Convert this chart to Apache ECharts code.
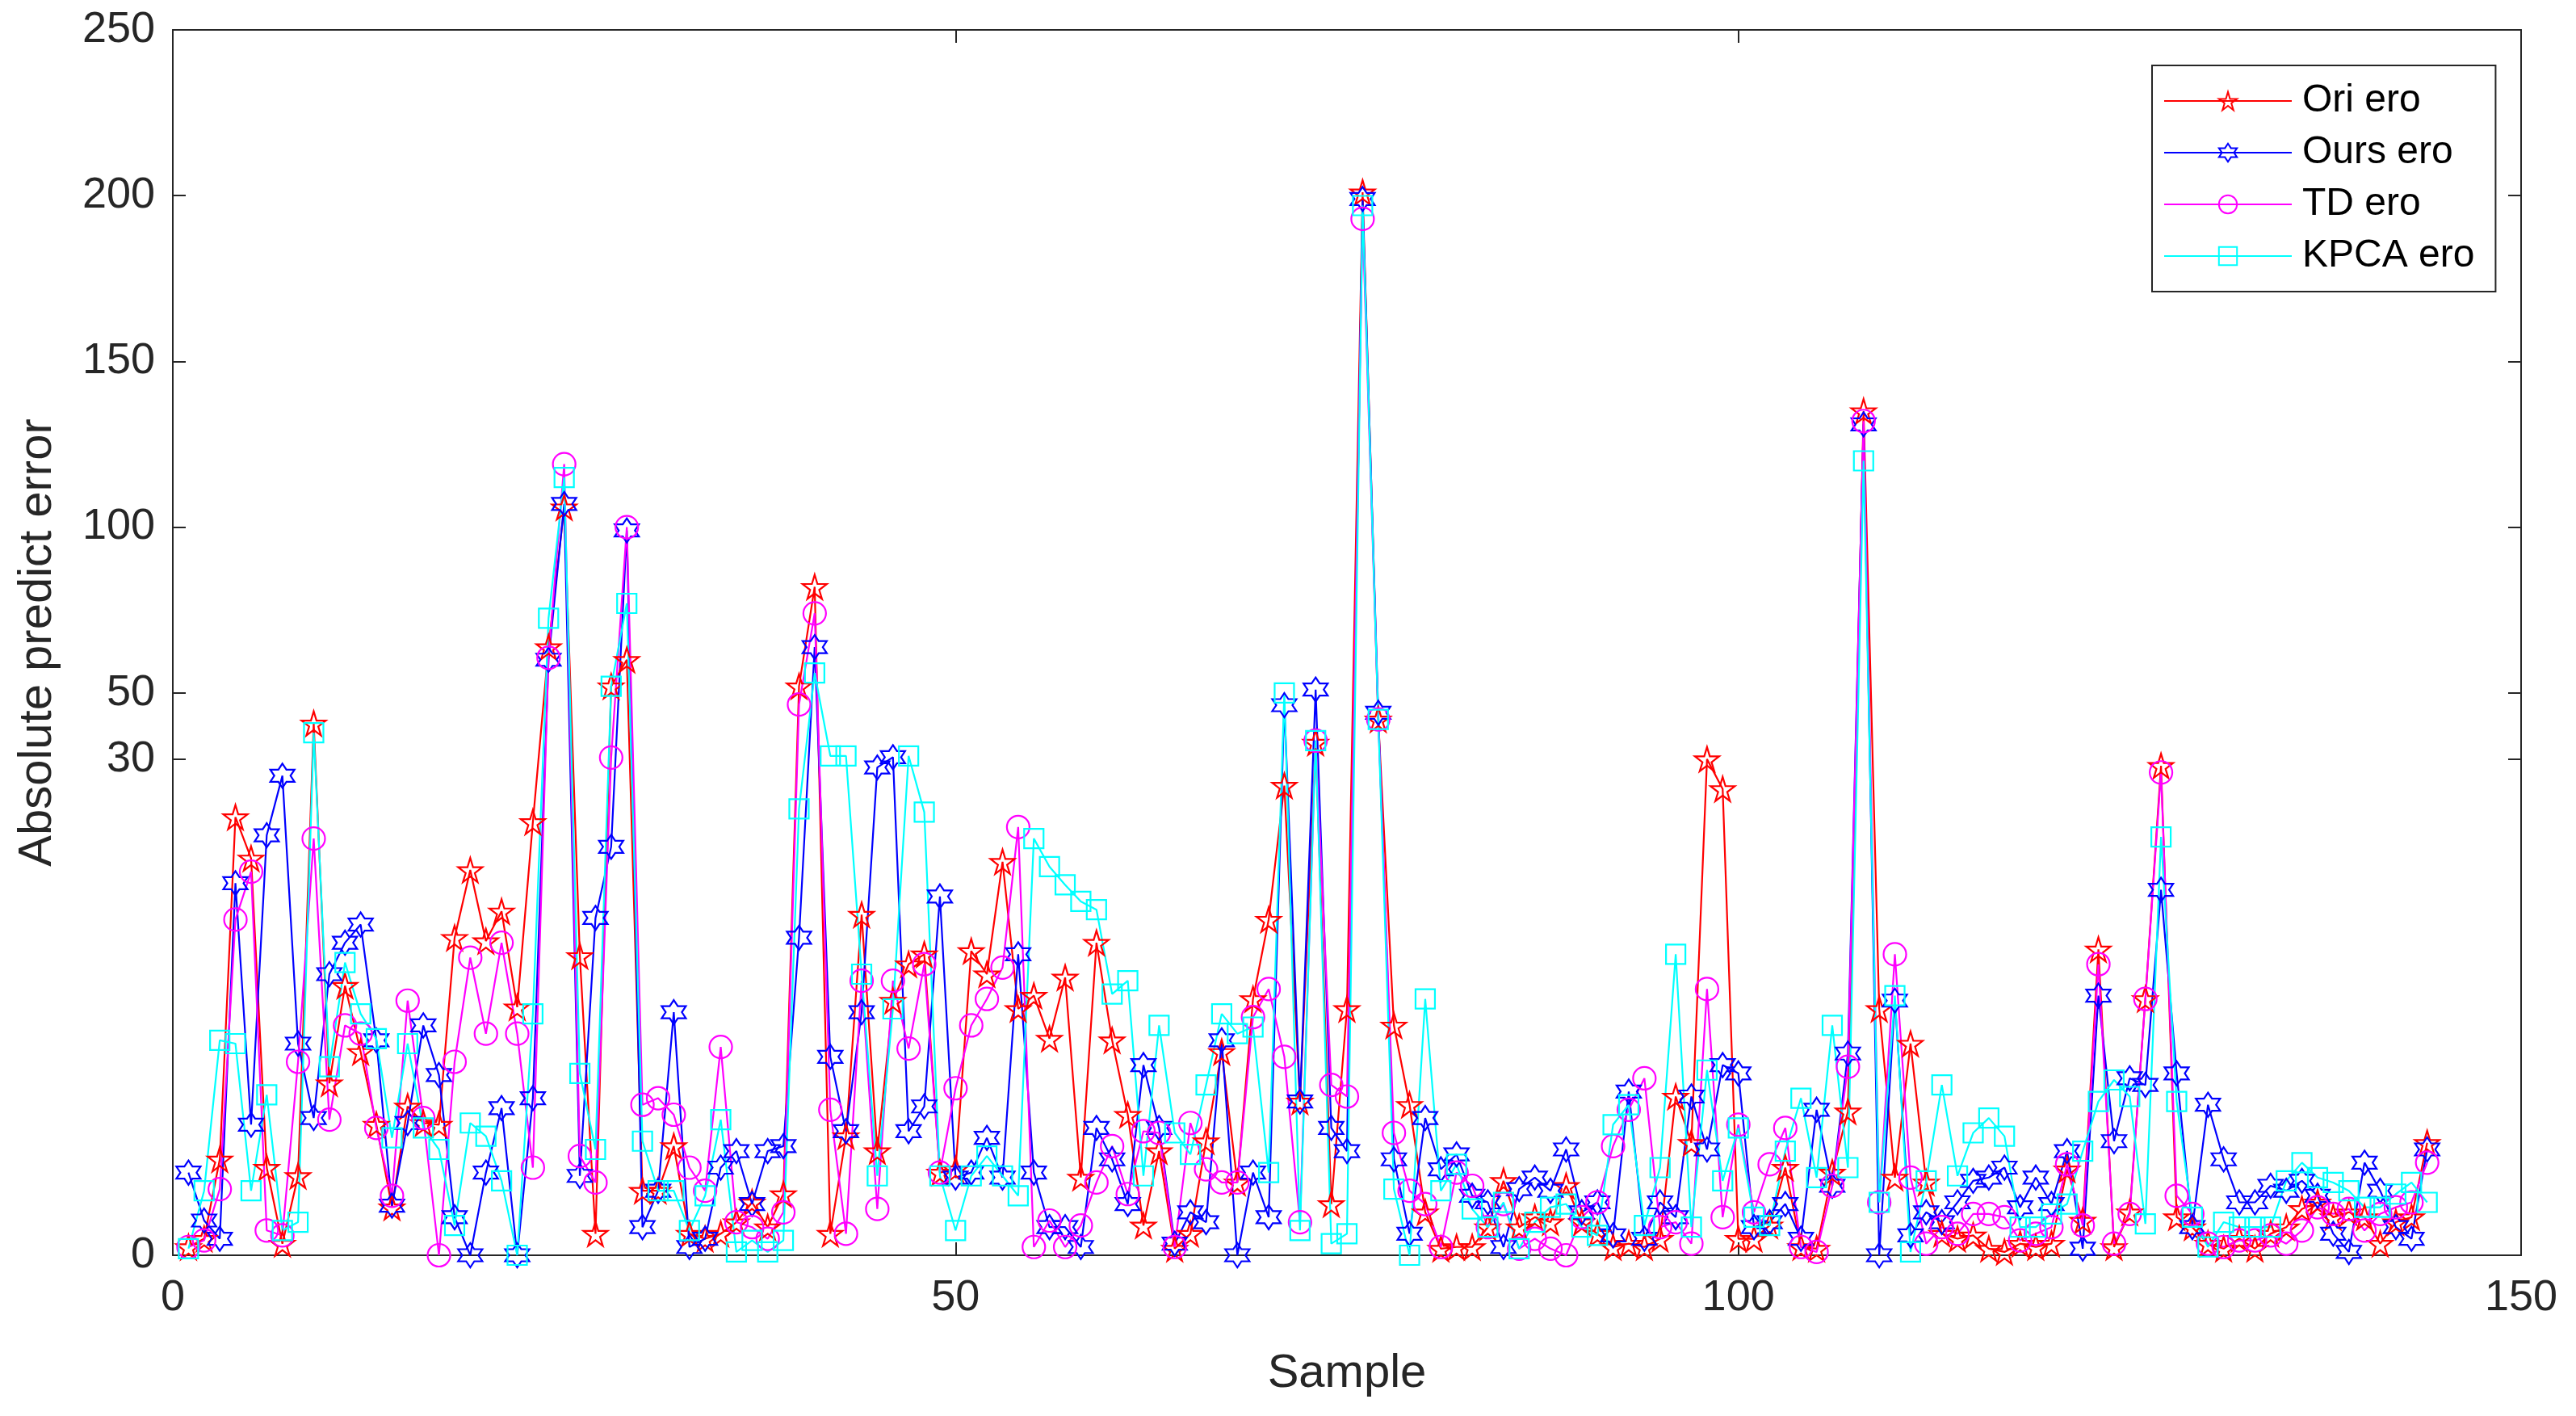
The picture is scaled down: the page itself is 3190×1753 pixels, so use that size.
<!DOCTYPE html>
<html><head><meta charset="utf-8">
<script src="https://cdn.jsdelivr.net/npm/echarts@6/dist/echarts.min.js"></script>
<style>html,body{margin:0;padding:0;background:#fff}#c{width:3190px;height:1753px}</style>
</head><body><div id="c"></div>
<script>
const samples = Array.from({length:144},(_,i)=>i+1);
const oriEro = [0.5,1,5.8,26.5,24,5.3,0.7,4.8,40.8,10.4,16.3,12.3,7.9,2.9,9,8,7.9,19.2,23.3,19,20.8,15,26.2,63.8,106,
18.1,1.3,52,60,3.9,3.9,6.6,1.3,1,1.3,2,3.2,1.7,3.7,52,82,1.3,7.2,20.6,6.3,15.4,17.6,18.2,5,5.2,
18.4,17,23.8,14.9,15.7,13.1,16.8,4.7,18.9,13,8.5,1.8,6.3,0.4,1.3,6.9,12.3,4.4,15.5,20.3,28.4,9.3,35,3.1,14.9,
201,42,13.9,9.1,2.6,0.4,0.5,0.5,1.7,4.5,1.7,2.3,2,4.2,2,1.3,0.5,0.7,0.5,1,9.6,6.8,30,28.2,1,
1,1.8,5.3,0.5,0.4,5,8.7,135,14.9,4.7,12.8,4.4,1.3,1,1.2,0.4,0.2,0.7,0.5,0.7,5.2,2.1,18.5,0.5,2.6,
15.5,29.6,2.3,1.7,0.7,0.4,1,0.4,1.3,1.7,2.8,3.2,2.3,2.6,2.3,0.7,2,2.3,6.8];
const oursEro = [5,2.1,1,22.5,7.9,25.4,29,12.8,8.3,17,18.9,20,13,3,8,13.9,10.9,2.3,0,5,8.9,0,9.5,60,107,
4.8,20.4,24.7,99,1.7,3.9,14.7,0.5,1,5.3,6.3,3.1,6.3,6.6,19.2,63.8,12,7.5,14.7,29.5,30.6,7.5,9,21.7,4.7,
5,7.1,4.7,18.2,5,1.7,1.7,0.5,7.7,5.8,3.1,11.5,7.7,0.7,2.6,2,13,0,5,2.3,46.3,9.3,51,7.7,6.3,
199,44,5.8,1.3,8.3,5.2,6.1,3.6,3.2,0.5,4,4.7,3.9,6.4,2.6,3.2,1.2,9.9,1,3.2,2.3,9.6,6.4,11.5,11,
1.7,2,3.1,1,8.8,4.2,12.2,131,0,15.4,1.2,2.6,2,3.2,4.5,4.7,5.3,2.9,4.7,3.1,6.3,0.4,15.7,6.9,10.7,
10.3,22.1,11,1.7,9.1,5.8,3.2,3.2,4.2,3.9,4.5,3.6,1.3,0.2,5.6,3.9,1.7,1,6.4];
const tdEro = [0.5,0.9,4,20.3,23.2,1.5,1.2,11.7,25.2,8.2,13.9,13.4,7.7,3.6,15.4,8.3,0,11.7,18,13.4,18.9,13.4,5.3,60.6,119,
6,4.4,30.5,100,9.1,9.5,8.5,5.3,3.9,12.6,2,1.7,1,2.6,46.5,74,8.8,1.3,16.6,2.8,16.6,12.5,17.6,5,10.1,
13.9,15.5,17.4,25.9,0.5,2.1,0.5,1.8,4.4,6.6,3.7,7.5,7.4,0.5,8,5.2,4.4,4.4,14.4,16.1,12,2,35.6,10.3,9.6,
193,42,7.4,3.9,3.1,0.5,5,4.2,1.7,3.1,0.4,1,0.4,0,2.3,3.2,6.6,8.8,10.7,1.7,2,0.7,16.1,2.3,7.9,
2.6,5.5,7.7,0.5,0.2,4.2,11.4,132,3.2,18.2,4.7,0.7,1.7,1.3,2.5,2.5,2.3,0.9,1.3,1.7,5.5,1.8,17.6,0.7,2.5,
15.5,29.2,3.6,2.5,0.7,0.5,0.9,0.9,1.2,0.7,1.5,2.9,2.5,2.8,1.5,2.5,2.9,3.2,5.6];
const kpcaEro = [0.4,3.9,13,12.8,3.9,9.7,1.5,2,38,11.4,17.7,14.6,13.1,7.1,12.8,7.7,6.4,1.8,8,7.2,4.5,0,14.6,72.5,115,
11,6.4,52,77,6.9,3.9,3.9,1.5,3.6,8.2,0.2,0.9,0.2,0.9,27,56,31,31,17,4.8,14.9,31,26.8,4.8,1.5,
4.8,6,4.8,3.6,25.2,23.5,22.4,21.4,20.9,15.8,16.6,4.8,13.9,7.4,6.1,10.3,14.6,13.4,13.8,5,50,1.5,35.6,0.7,1.3,
197,42,4,0,15.5,3.9,5.5,2.8,1.7,3.2,0.4,2,2.9,3.1,1.7,1.2,7.9,9.1,1.8,5.3,18.2,1.7,11.2,4.5,7.7,
2.3,1.8,6.3,9.5,4.7,13.9,5.3,120,3.2,15.7,0.2,4.5,10.3,4.8,7.4,8.3,7.2,1.7,1.7,2.5,3.1,6.3,9.3,10.6,9.6,
1.9,25.3,9.3,2.3,0.5,2,1.7,1.7,1.7,4.5,5.6,4.7,4.4,3.9,2.9,2.9,3.7,4.4,3.2];
const yTicks = [0,30,50,100,150,200,250];
const xTicks = [0,50,100,150];

// MATLAB-style broken linear y scale: 0-30 expanded, 30-250 compressed
function tf(v){ return v<=30 ? v*(302/30) : 302+(v-30)*(444/220); }
const tickPos = yTicks.map(tf);
function mk(arr){ return arr.map((v,i)=>[samples[i], tf(v)]); }

const star5='path://M50,0 L61,35 L98,35 L68,57 L79,91 L50,70 L21,91 L32,57 L2,35 L39,35 Z';
const star6='path://M50,0 L64.4,25 L93.3,25 L78.9,50 L93.3,75 L64.4,75 L50,100 L35.6,75 L6.7,75 L21.1,50 L6.7,25 L35.6,25 Z';
function ser(name, arr, color, symbol, size){
  return {name, type:'line', data:mk(arr), symbol, symbolSize:size, showAllSymbol:true,
    lineStyle:{color, width:2.2}, itemStyle:{color:'rgba(0,0,0,0)', borderColor:color, borderWidth:2.2},
    emphasis:{disabled:true}};
}
const font='Liberation Sans, Arial, sans-serif';
const axisCol='#262626';
const chart = echarts.init(document.getElementById('c'));
chart.setOption({
  animation:false, backgroundColor:'#fff',
  grid:{left:214,right:68,top:37,bottom:199,containLabel:false},
  xAxis:[{type:'value',min:0,max:150,interval:50,name:'Sample',nameLocation:'middle',nameGap:118,
    nameTextStyle:{fontFamily:font,fontSize:58,color:axisCol},
    axisLine:{lineStyle:{color:axisCol,width:2}},axisTick:{inside:true,length:16,lineStyle:{color:axisCol,width:2}},
    axisLabel:{fontFamily:font,fontSize:54,color:axisCol,margin:26},splitLine:{show:false}},
   {type:'value',min:0,max:150,interval:50,position:'top',axisLine:{onZero:false,lineStyle:{color:axisCol,width:2}},
    axisTick:{inside:true,length:16,lineStyle:{color:axisCol,width:2}},axisLabel:{show:false},splitLine:{show:false}}],
  yAxis:[{type:'value',min:0,max:tf(250),name:'Absolute predict error',nameLocation:'middle',nameGap:138,
    nameTextStyle:{fontFamily:font,fontSize:58,color:axisCol},
    axisLine:{show:true,lineStyle:{color:axisCol,width:2}},
    axisTick:{show:true,inside:true,length:16,customValues:tickPos,lineStyle:{color:axisCol,width:2}},
    axisLabel:{fontFamily:font,fontSize:54,color:axisCol,margin:22,customValues:tickPos,
      formatter:(v)=>{const i=tickPos.findIndex(p=>Math.abs(p-v)<0.5);return i>=0?String(yTicks[i]):'';}},
    splitLine:{show:false}},
   {type:'value',min:0,max:tf(250),position:'right',axisLine:{show:true,onZero:false,lineStyle:{color:axisCol,width:2}},
    axisTick:{show:true,inside:true,length:16,customValues:tickPos,lineStyle:{color:axisCol,width:2}},
    axisLabel:{show:false},splitLine:{show:false}}],
  legend:{orient:'vertical',left:2665,top:81,itemWidth:158,itemHeight:28,itemGap:16,
    padding:[20,26,20,14],backgroundColor:'#fff',borderColor:axisCol,borderWidth:2,borderRadius:0,
    textStyle:{fontFamily:font,fontSize:48,color:'#000',padding:[0,0,0,8]}},
  series:[
    ser('Ori ero',oriEro,'#FF0000',star5,30),
    ser('Ours ero',oursEro,'#0000FF',star6,30),
    ser('TD ero',tdEro,'#FF00FF','circle',28),
    ser('KPCA ero',kpcaEro,'#00FFFF','rect',24)
  ]
});
</script></body></html>
